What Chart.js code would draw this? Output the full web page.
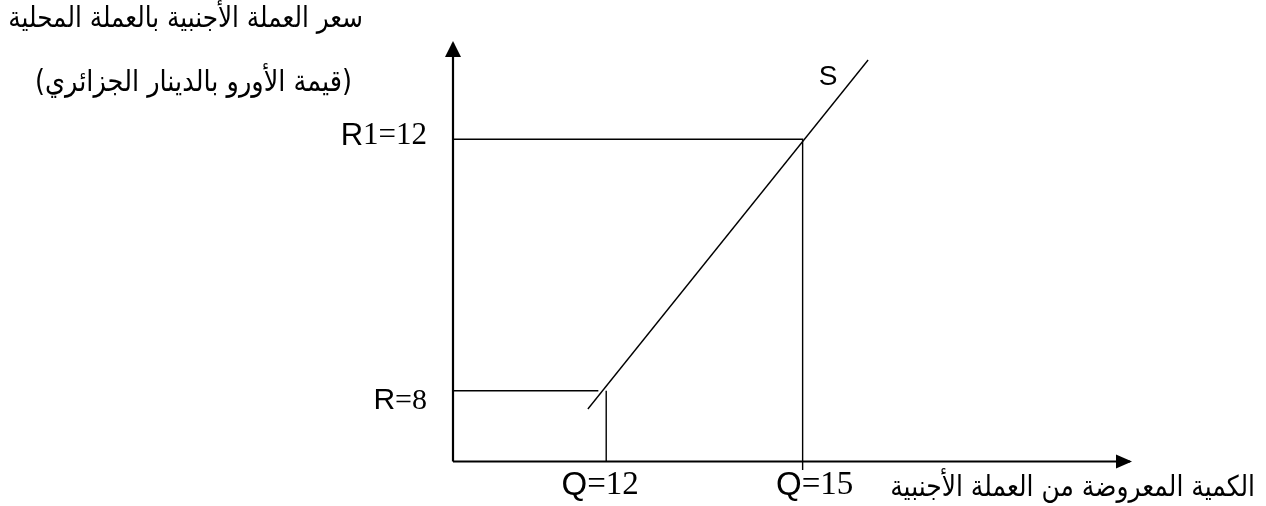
<!DOCTYPE html>
<html>
<head>
<meta charset="utf-8">
<script src="https://cdn.jsdelivr.net/npm/chart.js@4.4.1/dist/chart.umd.min.js"></script>
<style>
  html, body { margin: 0; padding: 0; background: #ffffff; }
  #wrap { width: 1266px; height: 506px; position: relative; }
</style>
</head>
<body>
<div id="wrap"><canvas id="c" width="1266" height="506"></canvas></div>
<script>
// ---- data ----
const axisRangeQ = [9.66, 20.0];          // hidden quantity scale
const axisRangeP = [6.875, 13.53];        // hidden price scale
const priceLevels = [8, 12];              // R, R1
const priceLabels = ['R=8', 'R1=12'];
const quantityLevels = [12, 15];          // Q at R, Q at R1
const quantityLabels = ['Q=12', 'Q=15'];
const supplyQ = [11.72, 16.0];            // supply curve S end points
const supplyP = [7.71, 13.26];
const lowGuideEndQ = 11.88;               // end of the R=8 horizontal guide
const highGuideBelowP = 6.74;             // Q=15 guide goes slightly below the axis
const curveLabel = 'S';
const yTitle = ['سعر العملة الأجنبية بالعملة المحلية', '(قيمة الأورو بالدينار الجزائري)'];
const xTitle = 'الكمية المعروضة من العملة الأجنبية';

const qMin = axisRangeQ[0], qMax = axisRangeQ[1];
const pMin = axisRangeP[0], pMax = axisRangeP[1];

const lineDs = (pts, w) => ({
  data: pts, showLine: true, borderColor: '#000', borderWidth: w,
  pointRadius: 0, fill: false, tension: 0, clip: false
});

const datasets = [
  // axes
  lineDs([{x: qMin, y: pMin}, {x: qMin, y: pMax}], 2.2),
  lineDs([{x: qMin, y: pMin}, {x: qMax, y: pMin}], 2.2),
  // R1 guides
  lineDs([{x: qMin, y: priceLevels[1]}, {x: quantityLevels[1], y: priceLevels[1]}, {x: quantityLevels[1], y: highGuideBelowP}], 1.4),
  // R guides
  lineDs([{x: qMin, y: priceLevels[0]}, {x: lowGuideEndQ, y: priceLevels[0]}], 1.4),
  lineDs([{x: quantityLevels[0], y: priceLevels[0]}, {x: quantityLevels[0], y: pMin}], 1.4),
  // supply curve
  lineDs(supplyQ.map((q, i) => ({x: q, y: supplyP[i]})), 1.4)
];

function mixedText(ctx, str, x, y, size, align) {
  // leading letters in sans, digits and '=' in serif
  const parts = [];
  for (const ch of str) {
    const sans = /[A-Za-z]/.test(ch);
    const font = sans ? `${size}px "Liberation Sans", Arial, sans-serif` : `${size}px "Liberation Serif", "Times New Roman", serif`;
    parts.push({ch, font});
  }
  let total = 0;
  parts.forEach(p => { ctx.font = p.font; p.w = ctx.measureText(p.ch).width; total += p.w; });
  let start = align === 'right' ? x - total : (align === 'center' ? x - total / 2 : x);
  ctx.textAlign = 'left';
  parts.forEach(p => { ctx.font = p.font; ctx.fillText(p.ch, start, y); start += p.w; });
}

function arabicText(ctx, str, xRight, baseline, width, base) {
  ctx.save();
  ctx.font = `${base}px "DejaVu Sans", sans-serif`;
  const w = ctx.measureText(str).width;
  const size = base * width / w;
  ctx.font = `${size}px "DejaVu Sans", sans-serif`;
  ctx.direction = 'rtl';
  ctx.textAlign = 'right';
  ctx.textBaseline = 'alphabetic';
  ctx.translate(xRight, baseline);
  ctx.scale(1, 1.15);
  ctx.fillText(str, 0, 0);
  ctx.restore();
}

const decor = {
  id: 'decor',
  afterDatasetsDraw(chart) {
    const ctx = chart.ctx;
    const xs = chart.scales.x, ys = chart.scales.y;
    const ox = xs.getPixelForValue(qMin), oy = ys.getPixelForValue(pMin);
    const topY = ys.getPixelForValue(pMax), endX = xs.getPixelForValue(qMax);
    ctx.save();
    ctx.fillStyle = '#000';
    // arrow heads
    ctx.beginPath();
    ctx.moveTo(ox, topY - 2); ctx.lineTo(ox - 8, topY + 14); ctx.lineTo(ox + 8, topY + 14); ctx.closePath(); ctx.fill();
    ctx.beginPath();
    ctx.moveTo(endX + 2, oy); ctx.lineTo(endX - 14, oy - 7); ctx.lineTo(endX - 14, oy + 7); ctx.closePath(); ctx.fill();

    ctx.textBaseline = 'middle';
    // price labels
    mixedText(ctx, priceLabels[1], ox - 26, ys.getPixelForValue(priceLevels[1]) - 3, 31, 'right');
    mixedText(ctx, priceLabels[0], ox - 26, ys.getPixelForValue(priceLevels[0]) + 10, 30, 'right');
    // quantity labels
    mixedText(ctx, quantityLabels[0], xs.getPixelForValue(quantityLevels[0]) - 6, oy + 24, 33, 'center');
    mixedText(ctx, quantityLabels[1], xs.getPixelForValue(quantityLevels[1]) + 12, oy + 24, 33, 'center');
    // curve label
    ctx.font = '28px "Liberation Sans", Arial, sans-serif';
    ctx.textAlign = 'center';
    ctx.fillText(curveLabel, xs.getPixelForValue(supplyQ[1]) - 40, ys.getPixelForValue(supplyP[1]) + 17);

    // titles
    arabicText(ctx, yTitle[0], 363, 27, 355, 22);
    arabicText(ctx, yTitle[1], 352, 91, 317, 22);
    arabicText(ctx, xTitle, 1255, 496, 365, 22);
    ctx.restore();
  }
};

new Chart(document.getElementById('c'), {
  type: 'scatter',
  data: { datasets },
  options: {
    responsive: false,
    animation: false,
    events: [],
    layout: { padding: { left: 453, right: 136, top: 43, bottom: 44.5 } },
    plugins: { legend: { display: false }, tooltip: { enabled: false } },
    scales: {
      x: { type: 'linear', min: qMin, max: qMax, display: false },
      y: { type: 'linear', min: pMin, max: pMax, display: false }
    }
  },
  plugins: [decor]
});
</script>
</body>
</html>
